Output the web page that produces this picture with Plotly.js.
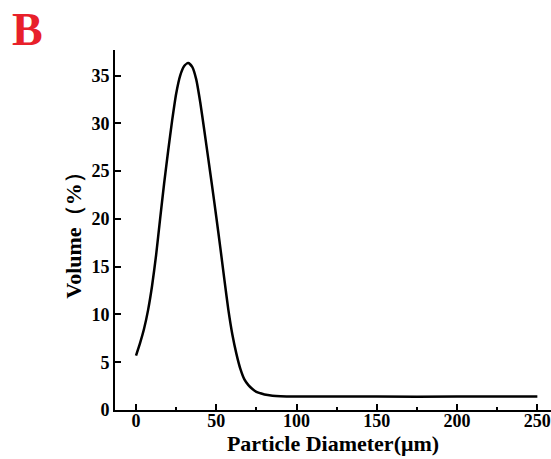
<!DOCTYPE html>
<html>
<head>
<meta charset="utf-8">
<script src="https://cdn.plot.ly/plotly-3.0.1.min.js"></script>
<style>html,body{margin:0;padding:0;background:#fff;}#chart{width:551px;height:459px;}</style>
</head>
<body>
<div id="chart"></div>
<script>
// Particle diameter (µm)
var diameter = [0, 2.5, 5, 7.5, 10, 12.5, 15, 17.5, 20, 22.5, 25, 27.5, 30, 32.5, 35, 37.5, 40, 42.5, 45, 47.5, 50, 52.5, 55, 57.5, 60, 62.5, 65, 67.5, 70, 72.5, 75, 77.5, 80, 85, 90, 100, 150, 200, 250];
// Volume (%)
var volume = [5.7, 7.0, 8.5, 10.45, 13.0, 16.2, 20.0, 23.7, 27.1, 30.3, 33.1, 35.0, 36.0, 36.3, 35.9, 34.6, 32.2, 29.3, 26.3, 23.3, 20.2, 17.0, 13.7, 10.5, 7.9, 5.9, 4.3, 3.2, 2.6, 2.2, 1.9, 1.75, 1.62, 1.5, 1.45, 1.42, 1.4, 1.4, 1.4];
var xTickVals = [0, 50, 100, 150, 200, 250];
var yTickVals = [0, 5, 10, 15, 20, 25, 30, 35];

var serif = 'Liberation Serif, Times New Roman, serif';
var tickFont = {family: serif, size: 18, color: '#000', weight: 'bold'};
var titleFont = {family: serif, size: 22, color: '#000', weight: 'bold'};

var trace = {
  x: diameter, y: volume, type: 'scatter', mode: 'lines',
  line: {color: '#000', width: 2.5, shape: 'spline', smoothing: 0.6},
  hoverinfo: 'skip'
};

var layout = {
  width: 551, height: 459,
  margin: {l: 115, r: 0, t: 50, b: 48.5},
  paper_bgcolor: '#fff', plot_bgcolor: '#fff',
  showlegend: false,
  xaxis: {
    range: [-13.1, 258.5], tickvals: xTickVals, ticks: 'inside', ticklen: 6, tickwidth: 2, tickcolor: '#000',
    showline: true, linecolor: '#000', linewidth: 2, showgrid: false, zeroline: false,
    minor: {dtick: 25, tick0: 0, ticks: 'inside', ticklen: 3, tickwidth: 2, tickcolor: '#000', showgrid: false},
    tickfont: tickFont, ticklabelstandoff: -7, automargin: true,
    title: {text: 'Particle Diameter(μm)', font: titleFont, standoff: 6}
  },
  yaxis: {
    range: [0, 37.67], tickvals: yTickVals, ticks: 'inside', ticklen: 6, tickwidth: 2, tickcolor: '#000',
    showline: true, linecolor: '#000', linewidth: 2, showgrid: false, zeroline: false,
    tickfont: tickFont,
    title: {text: 'Volume（%）', font: titleFont, standoff: 4}
  },
  annotations: [{
    text: 'B', xref: 'paper', yref: 'paper', x: -115/436, y: 1 + 50/360.5, xanchor: 'left', yanchor: 'top',
    xshift: 10, yshift: -2, showarrow: false,
    font: {family: serif, size: 46, color: '#e8202a', weight: 'bold'}
  }]
};

Plotly.newPlot('chart', [trace], layout, {displayModeBar: false, staticPlot: true});
</script>
</body>
</html>
